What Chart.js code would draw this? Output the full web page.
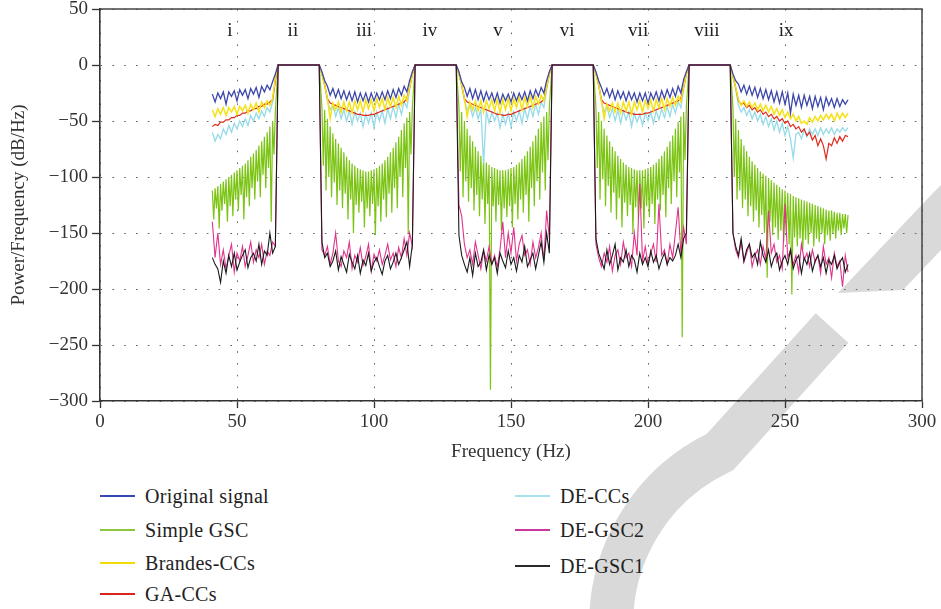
<!DOCTYPE html>
<html>
<head>
<meta charset="utf-8">
<script src="https://cdn.jsdelivr.net/npm/chart.js@4.4.1/dist/chart.umd.min.js"></script>
<style>
  html, body { margin: 0; padding: 0; background: #fff; }
  #wrap { position: relative; width: 941px; height: 609px; overflow: hidden; font-family: "Liberation Serif", "DejaVu Serif", serif; }
  #wm { position: absolute; left: 0; top: 0; }
  #chart { position: absolute; left: 0; top: 0; }
  .lg { position: absolute; font-size: 20px; letter-spacing: 0.3px; color: #222; line-height: 22px; white-space: nowrap; }
  .lg i { position: absolute; left: -45px; top: 10px; width: 35px; height: 2px; }
</style>
</head>
<body>
<div id="wrap">
  <svg id="wm" width="941" height="609" viewBox="0 0 941 609">
    <g fill="#d9d9d9" stroke="none">
      <polygon points="934,192 941,185 941,250 903,290 838,293"/>
    </g>
    <path d="M 832 328 L 720 452 A 190 190 0 0 0 612 640" fill="none" stroke="#d9d9d9" stroke-width="44"/>
  </svg>
  <canvas id="chart" width="941" height="470"></canvas>
  <div id="legend"></div>
</div>
<script>
// ---- Data ----
// frequency grid (Hz) used by most series
const freq = [
  41,42,43,44,45,46,47,48,49,50,51,52,53,54,55,56,57,58,59,60,61,62,63,64,
  65,80,
  81,82,83,84,85,86,87,88,89,90,91,92,93,94,95,96,97,98,99,100,101,102,103,104,105,106,107,108,109,110,111,112,113,114,
  115,130,
  131,132,133,134,135,136,137,138,139,140,141,142,143,144,145,146,147,148,149,150,151,152,153,154,155,156,157,158,159,160,161,162,163,164,
  165,180,
  181,182,183,184,185,186,187,188,189,190,191,192,193,194,195,196,197,198,199,200,201,202,203,204,205,206,207,208,209,210,211,212,213,214,
  215,230,
  231,232,233,234,235,236,237,238,239,240,241,242,243,244,245,246,247,248,249,250,251,252,253,254,255,256,257,258,259,260,261,262,263,264,265,266,267,268,269,270,271,272,273
];

// finer frequency grid (Hz) for the Simple GSC comb
const freqGSC = [
  41,41.5,42,42.5,43,43.5,44,44.5,45,45.5,46,46.5,47,47.5,48,48.5,49,49.5,50,50.5,51,51.5,52,52.5,53,53.5,54,54.5,55,55.5,56,56.5,57,57.5,58,58.5,59,59.5,60,60.5,61,61.5,62,62.5,63,63.5,64,
  65,80,
  81,81.5,82,82.5,83,83.5,84,84.5,85,85.5,86,86.5,87,87.5,88,88.5,89,89.5,90,90.5,91,91.5,92,92.5,93,93.5,94,94.5,95,95.5,96,96.5,97,97.5,98,98.5,99,99.5,100,100.5,101,101.5,102,102.5,103,103.5,104,104.5,105,105.5,106,106.5,107,107.5,108,108.5,109,109.5,110,110.5,111,111.5,112,112.5,113,113.5,114,
  115,130,
  131,131.5,132,132.5,133,133.5,134,134.5,135,135.5,136,136.5,137,137.5,138,138.5,139,139.5,140,140.5,141,141.5,142,142.5,143,143.5,144,144.5,145,145.5,146,146.5,147,147.5,148,148.5,149,149.5,150,150.5,151,151.5,152,152.5,153,153.5,154,154.5,155,155.5,156,156.5,157,157.5,158,158.5,159,159.5,160,160.5,161,161.5,162,162.5,163,163.5,164,
  165,180,
  181,181.5,182,182.5,183,183.5,184,184.5,185,185.5,186,186.5,187,187.5,188,188.5,189,189.5,190,190.5,191,191.5,192,192.5,193,193.5,194,194.5,195,195.5,196,196.5,197,197.5,198,198.5,199,199.5,200,200.5,201,201.5,202,202.5,203,203.5,204,204.5,205,205.5,206,206.5,207,207.5,208,208.5,209,209.5,210,210.5,211,211.5,212,212.5,213,213.5,214,
  215,230,
  231,231.5,232,232.5,233,233.5,234,234.5,235,235.5,236,236.5,237,237.5,238,238.5,239,239.5,240,240.5,241,241.5,242,242.5,243,243.5,244,244.5,245,245.5,246,246.5,247,247.5,248,248.5,249,249.5,250,250.5,251,251.5,252,252.5,253,253.5,254,254.5,255,255.5,256,256.5,257,257.5,258,258.5,259,259.5,260,260.5,261,261.5,262,262.5,263,263.5,264,264.5,265,265.5,266,266.5,267,267.5,268,268.5,269,269.5,270,270.5,271,271.5,272,272.5,273
];

const originalSignal = [
  -26,-33,-25,-30,-24,-35,-24,-28,-23,-32,-22,-27,-22,-30,-21,-26,-20,-29,-19,-24,-18,-22,-15,-8,
  0,0,
  -6,-14,-19,-27,-21,-29,-22,-30,-23,-31,-24,-32,-24,-33,-25,-32,-25,-33,-25,-32,-25,-31,-24,-31,-23,-30,-22,-29,-21,-27,-19,-24,-14,-6,
  0,0,
  -6,-15,-20,-28,-21,-30,-22,-31,-23,-32,-24,-31,-25,-33,-25,-34,-26,-32,-26,-33,-25,-32,-25,-31,-24,-32,-23,-30,-22,-28,-20,-25,-14,-6,
  0,0,
  -6,-14,-20,-27,-21,-29,-22,-31,-23,-30,-24,-32,-24,-31,-25,-33,-25,-32,-25,-34,-25,-31,-24,-32,-23,-30,-22,-29,-21,-28,-19,-25,-13,-6,
  0,0,
  -8,-14,-17,-24,-18,-26,-19,-27,-20,-29,-21,-30,-22,-31,-23,-33,-24,-34,-24,-35,-25,-43,-26,-36,-27,-38,-27,-36,-28,-39,-28,-37,-29,-40,-29,-36,-30,-38,-30,-37,-31,-35,-31
];

const simpleGSC = [
  -112,-138,-110,-128,-108,-146,-106,-130,-104,-124,-102,-140,-100,-126,-98,-135,-96,-120,-94,-130,-92,-116,-90,-138,-88,-118,-85,-126,-82,-110,-79,-120,-76,-104,-72,-118,-68,-98,-64,-110,-60,-92,-55,-140,-50,-80,-42,
  0,0,
  -38,-90,-40,-112,-48,-100,-55,-118,-61,-105,-66,-125,-70,-112,-74,-128,-78,-115,-82,-138,-85,-120,-88,-150,-90,-125,-92,-132,-93,-122,-94,-145,-95,-128,-95,-135,-94,-124,-93,-152,-92,-126,-90,-140,-88,-120,-85,-136,-82,-115,-78,-132,-74,-110,-69,-128,-64,-100,-58,-118,-52,-92,-47,-150,-42,-80,-38,
  0,0,
  -38,-95,-42,-118,-50,-104,-57,-122,-63,-110,-68,-130,-73,-116,-77,-135,-81,-120,-84,-142,-87,-124,-89,-290,-91,-126,-92,-140,-93,-125,-94,-148,-94,-128,-94,-136,-93,-126,-92,-145,-91,-124,-89,-138,-87,-120,-84,-132,-81,-116,-77,-140,-73,-110,-68,-126,-63,-104,-57,-120,-51,-96,-46,-112,-42,-85,-38,
  0,0,
  -38,-92,-42,-120,-50,-102,-57,-126,-63,-108,-68,-132,-73,-114,-77,-138,-81,-119,-84,-145,-87,-123,-89,-135,-91,-125,-92,-150,-93,-127,-94,-138,-94,-128,-94,-146,-93,-126,-92,-136,-91,-124,-89,-142,-87,-120,-84,-130,-81,-116,-77,-136,-73,-110,-68,-124,-63,-104,-57,-118,-51,-96,-46,-243,-42,-85,-38,
  0,0,
  -38,-100,-48,-120,-58,-112,-66,-128,-72,-120,-77,-135,-82,-126,-86,-140,-89,-130,-92,-145,-95,-134,-97,-150,-99,-190,-101,-140,-103,-152,-105,-145,-107,-156,-109,-148,-111,-158,-112,-150,-114,-160,-115,-205,-117,-154,-118,-162,-119,-155,-120,-165,-121,-156,-122,-160,-123,-150,-124,-162,-125,-155,-126,-158,-127,-150,-128,-160,-129,-152,-130,-157,-130,-150,-131,-155,-132,-148,-132,-152,-133,-146,-133,-150,-134
];

const brandesCCs = [
  -40,-46,-39,-44,-38,-45,-38,-42,-37,-44,-37,-41,-36,-43,-35,-40,-34,-42,-33,-38,-32,-36,-30,-12,
  0,0,
  -8,-18,-30,-48,-34,-40,-33,-42,-33,-41,-33,-43,-32,-40,-32,-42,-31,-39,-31,-41,-30,-38,-30,-40,-29,-37,-29,-38,-28,-36,-27,-32,-20,-8,
  0,0,
  -8,-18,-30,-46,-33,-40,-32,-41,-32,-42,-32,-39,-31,-41,-31,-43,-31,-40,-30,-41,-30,-38,-29,-40,-29,-37,-28,-38,-28,-35,-27,-32,-20,-8,
  0,0,
  -8,-18,-32,-48,-35,-41,-34,-42,-34,-43,-33,-41,-33,-44,-33,-40,-32,-42,-32,-39,-31,-41,-31,-38,-30,-40,-30,-37,-29,-36,-28,-33,-20,-8,
  0,0,
  -10,-20,-31,-36,-32,-37,-33,-38,-34,-40,-35,-41,-36,-42,-37,-44,-39,-45,-40,-47,-42,-48,-44,-50,-46,-52,-50,-53,-47,-51,-46,-50,-45,-49,-44,-48,-44,-50,-43,-48,-43,-47,-43
];

const gaCCs = [
  -55,-53,-54,-51,-51,-49,-49,-47,-47,-45,-45,-43,-43,-41,-41,-39,-39,-37,-37,-35,-35,-33,-31,-14,
  0,0,
  -8,-18,-30,-34,-35,-36,-37,-38,-39,-40,-41,-42,-43,-44,-44,-45,-45,-45,-44,-44,-43,-42,-41,-40,-39,-38,-37,-36,-35,-34,-33,-30,-20,-8,
  0,0,
  -8,-18,-30,-33,-34,-35,-36,-37,-38,-39,-40,-41,-42,-43,-44,-44,-45,-45,-44,-44,-43,-42,-41,-40,-39,-38,-37,-36,-35,-34,-33,-31,-20,-8,
  0,0,
  -8,-18,-31,-34,-35,-36,-37,-38,-39,-40,-41,-42,-43,-43,-44,-44,-44,-44,-43,-43,-42,-41,-40,-39,-38,-37,-36,-35,-34,-33,-32,-30,-20,-8,
  0,0,
  -10,-20,-32,-35,-34,-38,-36,-40,-38,-42,-40,-44,-42,-46,-44,-48,-46,-50,-48,-52,-50,-55,-53,-57,-55,-60,-57,-63,-60,-67,-63,-72,-66,-72,-84,-70,-72,-65,-70,-64,-68,-63,-64
];

const deCCs = [
  -60,-68,-62,-66,-57,-62,-54,-60,-52,-57,-50,-55,-48,-54,-45,-50,-43,-48,-41,-46,-38,-42,-33,-14,
  0,0,
  -8,-18,-32,-40,-36,-46,-38,-48,-40,-50,-41,-53,-42,-50,-43,-55,-44,-52,-43,-56,-42,-50,-41,-52,-39,-48,-37,-47,-35,-44,-33,-38,-22,-8,
  0,0,
  -8,-18,-32,-40,-36,-46,-38,-48,-40,-88,-41,-52,-42,-50,-43,-56,-44,-53,-43,-55,-42,-50,-41,-52,-39,-48,-37,-46,-35,-44,-33,-38,-22,-8,
  0,0,
  -8,-18,-32,-42,-37,-47,-39,-50,-40,-52,-41,-49,-42,-55,-43,-51,-44,-54,-43,-50,-42,-52,-41,-49,-39,-47,-37,-46,-35,-43,-33,-38,-22,-8,
  0,0,
  -10,-22,-36,-42,-38,-45,-40,-48,-42,-50,-44,-53,-46,-55,-48,-58,-50,-60,-52,-63,-55,-66,-83,-62,-60,-66,-58,-64,-57,-62,-57,-63,-56,-62,-57,-61,-56,-62,-57,-60,-56,-59,-56
];

const deGSC2 = [
  -140,-172,-150,-178,-165,-182,-170,-160,-185,-168,-175,-162,-180,-170,-158,-176,-165,-172,-160,-178,-166,-170,-158,-162,
  0,0,
  -165,-170,-162,-178,-168,-150,-175,-180,-166,-172,-158,-182,-170,-176,-163,-179,-171,-160,-184,-169,-175,-165,-178,-170,-160,-174,-168,-180,-163,-172,-155,-170,-150,-162,
  0,0,
  -125,-135,-160,-172,-165,-178,-158,-170,-182,-166,-175,-162,-178,-170,-180,-165,-140,-172,-150,-168,-145,-175,-160,-152,-170,-165,-178,-158,-172,-163,-150,-175,-130,-155,
  0,0,
  -160,-172,-180,-168,-176,-162,-184,-170,-165,-178,-158,-172,-168,-180,-150,-170,-106,-175,-162,-178,-168,-160,-176,-124,-170,-165,-178,-160,-172,-150,-127,-168,-145,-160,
  0,0,
  -150,-165,-172,-158,-176,-168,-160,-180,-170,-165,-178,-162,-174,-130,-168,-160,-176,-170,-182,-124,-172,-165,-178,-170,-185,-160,-174,-168,-180,-165,-176,-170,-186,-162,-178,-172,-190,-168,-180,-175,-198,-170,-185
];

const deGSC1 = [
  -172,-178,-182,-194,-175,-186,-170,-180,-168,-183,-176,-170,-165,-181,-172,-168,-175,-160,-178,-166,-170,-150,-168,-162,
  0,0,
  -158,-172,-168,-180,-175,-166,-183,-171,-178,-185,-169,-176,-182,-170,-186,-174,-179,-168,-184,-176,-172,-180,-187,-175,-170,-182,-176,-168,-178,-172,-165,-158,-180,-160,
  0,0,
  -152,-170,-178,-185,-172,-188,-168,-180,-176,-165,-183,-170,-178,-172,-186,-168,-175,-181,-166,-178,-172,-184,-170,-176,-162,-180,-174,-168,-182,-170,-158,-176,-150,-168,
  0,0,
  -155,-168,-175,-182,-165,-178,-170,-160,-183,-172,-176,-165,-180,-170,-174,-185,-168,-178,-172,-180,-166,-176,-170,-182,-174,-168,-178,-172,-175,-170,-160,-172,-155,-150,
  0,0,
  -150,-162,-170,-155,-175,-165,-160,-172,-168,-178,-158,-170,-176,-165,-180,-172,-168,-183,-175,-170,-178,-165,-182,-174,-170,-186,-172,-178,-168,-184,-175,-170,-180,-172,-186,-174,-178,-170,-182,-176,-172,-185,-178
];

const seriesNames = ["Original signal", "Simple GSC", "Brandes-CCs", "GA-CCs", "DE-CCs", "DE-GSC2", "DE-GSC1"];
const regionLabels = ["i", "ii", "iii", "iv", "v", "vi", "vii", "viii", "ix"];
const regionLabelHz = [47.4, 70.4, 96.4, 120.4, 145.3, 170.5, 196.4, 221.5, 250.4];
const xTicks = [0, 50, 100, 150, 200, 250, 300];
const yTicks = [50, 0, -50, -100, -150, -200, -250, -300];

// ---- Styles ----
const seriesValues = [originalSignal, simpleGSC, brandesCCs, gaCCs, deCCs, deGSC2, deGSC1];
const seriesFreqs = [freq, freqGSC, freq, freq, freq, freq, freq];
const seriesColors = ["#3c47aa", "#7cc414", "#f6e114", "#e02a1c", "#95dbe8", "#e0338c", "#1a1a1a"];
const seriesWidths = [1.3, 1.2, 1.5, 1.2, 1.3, 1.1, 1.1];
const legendColors = ["#3548b4", "#8cc63f", "#f2dc00", "#d9261c", "#a9e2ef", "#c8379c", "#2a2a2a"];
const drawOrder = [2, 6, 3, 4, 5, 1, 0];
const SERIF = '"Liberation Serif", "DejaVu Serif", serif';

const datasets = seriesNames.map((name, k) => ({
  label: name,
  data: seriesFreqs[k].map((f, i) => ({ x: f, y: seriesValues[k][i] })),
  borderColor: seriesColors[k],
  backgroundColor: seriesColors[k],
  borderWidth: seriesWidths[k],
  pointRadius: 0,
  tension: 0,
  fill: false,
  order: drawOrder[k]
}));

const framePlugin = {
  id: 'frame',
  afterDraw(chart) {
    const { ctx, chartArea: a, scales } = chart;
    ctx.save();
    ctx.strokeStyle = '#444';
    ctx.lineWidth = 1.5;
    ctx.beginPath();
    ctx.moveTo(a.left, a.top);
    ctx.lineTo(a.right, a.top);
    ctx.lineTo(a.right, a.bottom);
    ctx.stroke();
    ctx.fillStyle = '#222';
    ctx.font = '19px ' + SERIF;
    ctx.textAlign = 'center';
    ctx.textBaseline = 'middle';
    const y = scales.y.getPixelForValue(30);
    regionLabels.forEach((t, i) => {
      ctx.fillText(t, scales.x.getPixelForValue(regionLabelHz[i]), y);
    });
    ctx.restore();
  }
};

new Chart(document.getElementById('chart'), {
  type: 'line',
  data: { datasets },
  plugins: [framePlugin],
  options: {
    responsive: false,
    animation: false,
    devicePixelRatio: 1,
    layout: { padding: { top: 9, right: 19, left: 0, bottom: 0 } },
    plugins: { legend: { display: false }, tooltip: { enabled: false } },
    scales: {
      x: {
        type: 'linear', min: 0, max: 300,
        afterBuildTicks: s => { s.ticks = xTicks.map(v => ({ value: v })); },
        afterFit: s => { s.height = 69; },
        ticks: { color: '#333', font: { family: SERIF, size: 19 }, padding: 3, maxRotation: 0 },
        grid: { color: '#666', lineWidth: 1, tickColor: '#333', tickLength: 7, tickWidth: 1.3, tickBorderDash: [] },
        border: { display: true, color: '#333', width: 1.6, dash: [1.6, 10.2] },
        title: { display: true, text: 'Frequency (Hz)', color: '#333', font: { family: SERIF, size: 19 }, padding: { top: 2, bottom: 7 } }
      },
      y: {
        type: 'linear', min: -300, max: 50,
        afterBuildTicks: s => { s.ticks = yTicks.map(v => ({ value: v })); },
        afterFit: s => { s.width = 100; s.paddingTop = 0; s.paddingBottom = 0; },
        ticks: { color: '#333', font: { family: SERIF, size: 19 }, padding: 4,
          callback: v => (v < 0 ? '\u2212' + Math.abs(v) : String(v)) },
        grid: { color: '#666', lineWidth: 1, tickColor: '#333', tickLength: 8, tickWidth: 1.3, tickBorderDash: [] },
        border: { display: true, color: '#333', width: 1.6, dash: [1.6, 10.2] },
        title: { display: true, text: 'Power/Frequency (dB/Hz)', color: '#333', font: { family: SERIF, size: 19 }, padding: { top: 8, bottom: 0 } }
      }
    }
  }
});

// ---- HTML legend, two columns ----
const legendPos = [
  [145, 485], [145, 519], [145, 552], [145, 583],
  [560, 485], [560, 519], [560, 555]
];
const lg = document.getElementById('legend');
seriesNames.forEach((name, k) => {
  const d = document.createElement('div');
  d.className = 'lg';
  d.style.left = legendPos[k][0] + 'px';
  d.style.top = legendPos[k][1] + 'px';
  const line = document.createElement('i');
  line.style.background = legendColors[k];
  d.appendChild(line);
  d.appendChild(document.createTextNode(name));
  lg.appendChild(d);
});
</script>
</body>
</html>
